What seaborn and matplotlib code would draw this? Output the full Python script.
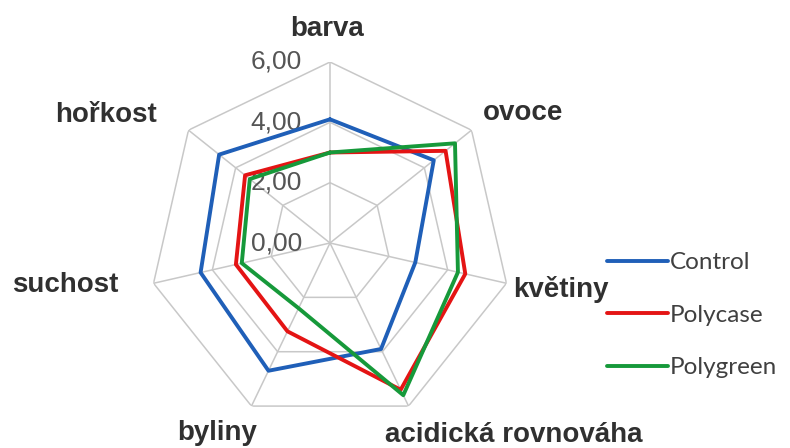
import numpy as np
import pandas as pd
import matplotlib
matplotlib.use("Agg")
import matplotlib.pyplot as plt
import matplotlib.transforms as mtransforms
import seaborn as sns

kategorie = ["barva", "ovoce", "květiny", "acidická rovnováha", "byliny", "suchost", "hořkost"]
control = [4.1, 4.4, 2.9, 3.9, 4.7, 4.4, 4.7]
polycase = [3.0, 4.9, 4.6, 5.4, 3.25, 3.2, 3.6]
polygreen = [3.0, 5.3, 4.35, 5.6, 2.4, 3.0, 3.4]
serie = ["Control", "Polycase", "Polygreen"]
barvy = ["#1f5fb8", "#e41414", "#16993a"]
mrizka = [2, 4, 6]
popisky_mrizky = ["0,00", "2,00", "4,00", "6,00"]
hodnoty_mrizky = [0, 2, 4, 6]

# pozice popisku os v pixelech (levy okraj, uclaf)
pozice_popisku = [(290, 36), (483, 120), (513, 297), (385, 442), (177, 440), (12, 292), (55, 122)]

W, H = 790, 448
n = len(kategorie)
uhly = np.arange(n) * 2 * np.pi / n
uhly_uzavrene = np.append(uhly, uhly[0])

radky = []
for nazev, hodnoty in zip(serie, [control, polycase, polygreen]):
    for u, h in zip(uhly_uzavrene, hodnoty + hodnoty[:1]):
        radky.append({"uhel": u, "hodnota": h, "serie": nazev})
df = pd.DataFrame(radky)

sns.set_style("white")
plt.rcParams["font.family"] = ["Liberation Sans", "DejaVu Sans"]

fig = plt.figure(figsize=(W / 100, H / 100), dpi=100)
cx, cy, R = 330, 243, 181
ax = fig.add_axes([(cx - R) / W, (H - cy - R) / H, 2 * R / W, 2 * R / H], projection="polar")
ax.set_theta_zero_location("N")
ax.set_theta_direction(-1)
ax.set_ylim(0, 6)
ax.grid(False)
ax.spines["polar"].set_visible(False)
ax.set_xticks([])
ax.set_yticks([])
ax.patch.set_alpha(0)

seda = "#c8c8c8"
for r in mrizka:
    ax.plot(uhly_uzavrene, [r] * len(uhly_uzavrene), color=seda, lw=1.1, zorder=1)
for u in uhly:
    ax.plot([u, u], [0, 6], color=seda, lw=1.1, zorder=1)

sns.lineplot(data=df, x="uhel", y="hodnota", hue="serie", palette=barvy,
             sort=False, estimator=None, lw=2.8, ax=ax, zorder=3)
ax.set_xlabel("")
ax.set_ylabel("")

posun = mtransforms.ScaledTranslation(-28 / 100, 0, fig.dpi_scale_trans)
for h, t in zip(hodnoty_mrizky, popisky_mrizky):
    ax.text(0, h, t, transform=ax.transData + posun, ha="right", va="center",
            fontsize=19, color="#555555", zorder=2)

for t, (x, y) in zip(kategorie, pozice_popisku):
    fig.text(x / W, 1 - y / H, t, ha="left", va="baseline", fontsize=20,
             fontweight="bold", color="#303030")

handles, labels = ax.get_legend_handles_labels()
leg = ax.legend(handles, labels, loc="upper left", bbox_to_anchor=(607 / W, 1 - 252 / H),
                bbox_transform=fig.transFigure, frameon=False,
                handlelength=2.5, handletextpad=0.08, labelspacing=1.3,
                borderpad=0, borderaxespad=0,
                prop={"family": ["Lato", "DejaVu Sans"], "size": 17.5})
for tx in leg.get_texts():
    tx.set_color("#404040")

fig.savefig("out.png", dpi=100)
